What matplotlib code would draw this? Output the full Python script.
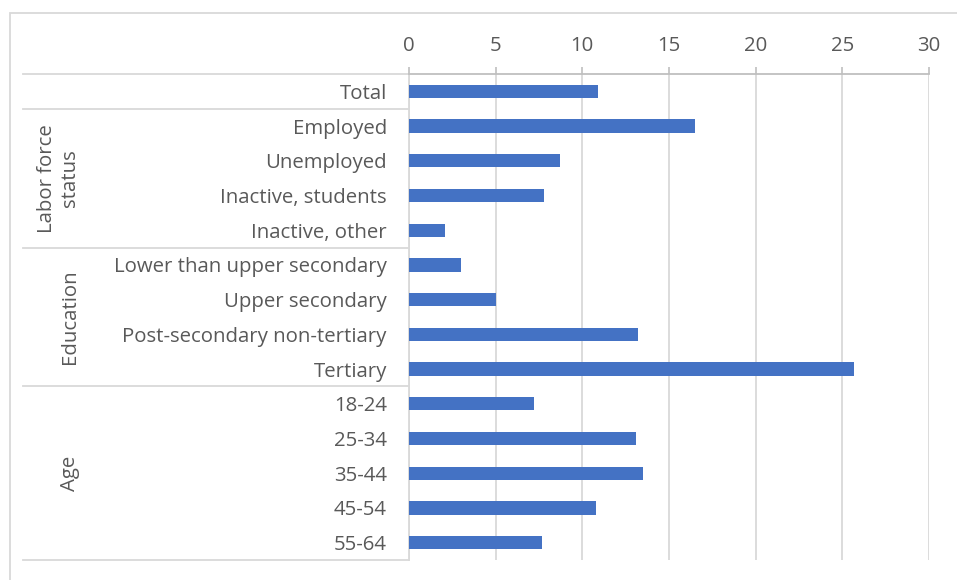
import matplotlib
matplotlib.use("Agg")
import matplotlib.pyplot as plt
from matplotlib.patches import Rectangle
from matplotlib.transforms import blended_transform_factory

plt.rcParams['font.family'] = ['Open Sans', 'DejaVu Sans']

categories = [
    "Total",
    "Employed", "Unemployed", "Inactive, students", "Inactive, other",
    "Lower than upper secondary", "Upper secondary",
    "Post-secondary non-tertiary", "Tertiary",
    "18-24", "25-34", "35-44", "45-54", "55-64",
]
values = [10.9, 16.5, 8.7, 7.8, 2.1, 3.0, 5.0, 13.2, 25.7, 7.2, 13.1, 13.5, 10.8, 7.7]
groups = ["Labor force\nstatus", "Education", "Age"]
group_spans = [(1, 4), (5, 8), (9, 13)]
x_ticks = [0, 5, 10, 15, 20, 25, 30]

W, H = 957, 580
TEXT = "#595959"
BAR = "#4472C4"
GRID = "#D9D9D9"
FS = 14.7

fig = plt.figure(figsize=(W / 100, H / 100), dpi=100)
fig.patch.set_facecolor("white")

# outer chart frame (runs off the right and bottom edge)
fig.add_artist(Rectangle((10 / W, -0.05), 1.1, 1 - 13 / H + 0.05,
                         transform=fig.transFigure, fill=False,
                         edgecolor=GRID, linewidth=1.3))

left, right, top, bottom = 409, 929, 74, 560
ax = fig.add_axes([left / W, 1 - bottom / H, (right - left) / W, (bottom - top) / H])

y = list(range(len(categories)))
ax.barh(y, values, height=0.38, color=BAR, zorder=3)
ax.set_ylim(len(categories) - 0.5, -0.5)
ax.set_xlim(0, 30)

ax.xaxis.tick_top()
ax.set_xticks(x_ticks)
ax.set_xticklabels([str(t) for t in x_ticks])
ax.tick_params(axis="x", length=5, width=1.2, color="#BFBFBF", pad=8,
               labelsize=FS, labelcolor=TEXT)
ax.grid(axis="x", color=GRID, linewidth=1.3, zorder=0)

ax.set_yticks(y)
ax.set_yticklabels(categories)
ax.tick_params(axis="y", length=0, pad=16, labelsize=FS, labelcolor=TEXT)

for s in ("right", "bottom"):
    ax.spines[s].set_visible(False)
ax.spines["top"].set_color("#BFBFBF")
ax.spines["top"].set_linewidth(1.3)
ax.spines["left"].set_color(GRID)
ax.spines["left"].set_linewidth(1.3)

# group separators in the category area
tr = blended_transform_factory(ax.transAxes, ax.transData)
x0 = (23 - left) / (right - left)
for yb in (-0.5, 0.5, 4.5, 8.5, 13.5):
    ax.plot([x0, 0], [yb, yb], transform=tr, color=GRID, linewidth=1.3,
            clip_on=False, zorder=1)

# rotated group labels
xg = (80 - left) / (right - left)
for name, (a, b) in zip(groups, group_spans):
    ax.text(xg, (a + b) / 2, name, transform=tr, rotation=90,
            ha="right", va="center", multialignment="center",
            fontsize=FS, color=TEXT, linespacing=1.2)

fig.savefig("out.png", dpi=100, facecolor="white")
